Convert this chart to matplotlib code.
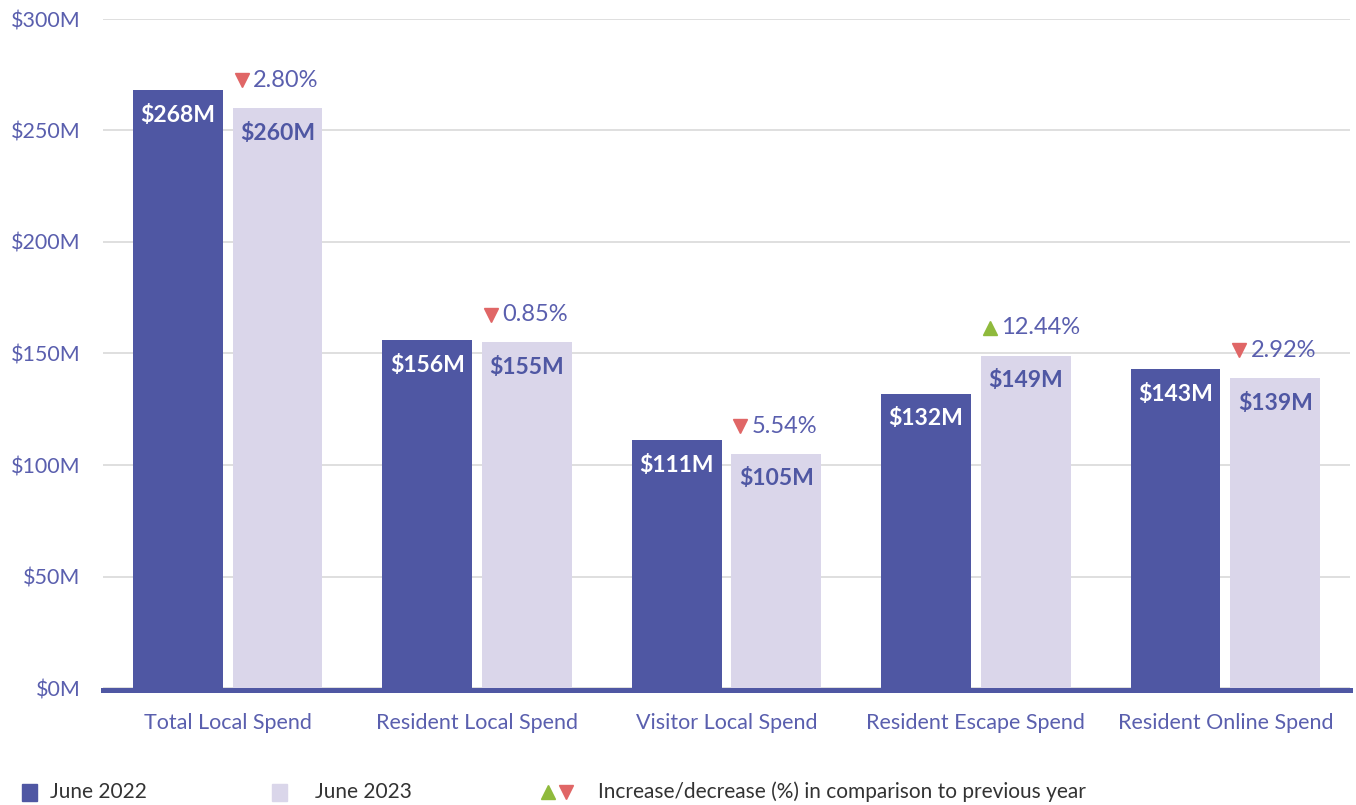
import matplotlib
matplotlib.use("Agg")
import matplotlib.pyplot as plt
from matplotlib.patches import Rectangle
from matplotlib.lines import Line2D
import matplotlib.transforms as mtransforms
import numpy as np

categories = ["Total Local Spend", "Resident Local Spend", "Visitor Local Spend",
              "Resident Escape Spend", "Resident Online Spend"]
june_2022 = [268, 156, 111, 132, 143]
june_2023 = [260, 155, 105, 149, 139]
pct_change = [-2.80, -0.85, -5.54, 12.44, -2.92]
y_ticks = [0, 50, 100, 150, 200, 250, 300]
y_tick_labels = ["$0M", "$50M", "$100M", "$150M", "$200M", "$250M", "$300M"]
legend_labels = ["June 2022", "June 2023", "Increase/decrease (%) in comparison to previous year"]

DARK = "#4f57a3"
LIGHT = "#dad6ea"
TXT = "#5a5fae"
RED = "#e06666"
GREEN = "#8fba3c"
FONT = "Lato"

plt.rcParams['font.family'] = [FONT, 'DejaVu Sans']

fig = plt.figure(figsize=(13.56, 8.05), dpi=100)
ax = fig.add_axes([103/1356, 1-688/805, 1247/1356, 669/805])

x = np.arange(len(categories))
w = 0.36
off = 0.2
ax.bar(x - off, june_2022, width=w, color=DARK, zorder=2)
ax.bar(x + off, june_2023, width=w, color=LIGHT, zorder=2)

ax.set_xlim(-0.5, 4.5)
ax.set_ylim(0, 300)
ax.set_yticks(y_ticks)
ax.set_yticklabels(y_tick_labels)
ax.set_xticks(x)
ax.set_xticklabels(categories)
ax.tick_params(axis='both', length=0, labelcolor=TXT, labelsize=15.5)
ax.tick_params(axis='y', pad=16)
ax.tick_params(axis='x', pad=18)
for s in ax.spines.values():
    s.set_visible(False)
ax.grid(axis='y', color="#dcdcdc", linewidth=1.3, zorder=0)
ax.set_axisbelow(True)
base = ax.axhline(0, color=DARK, linewidth=3.6, zorder=3, clip_on=False)
base.set_transform(ax.get_yaxis_transform() +
                   mtransforms.ScaledTranslation(0, -1.5/72, fig.dpi_scale_trans))

for xi, v in zip(x, june_2022):
    ax.annotate(f"${v}M", (xi - off, v), xytext=(0, -18), textcoords='offset points',
                ha='center', va='center', color='white', fontsize=16.5, fontweight='bold')
for xi, v in zip(x, june_2023):
    ax.annotate(f"${v}M", (xi + off, v), xytext=(0, -18), textcoords='offset points',
                ha='center', va='center', color=DARK, fontsize=16.5, fontweight='bold')

for xi, v, p in zip(x, june_2023, pct_change):
    col = GREEN if p > 0 else RED
    mk = '^' if p > 0 else 'v'
    ax.plot([xi + off - 0.144], [v], marker=mk, color=col, markersize=10.5,
            linestyle='none', transform=ax.transData +
            mtransforms.ScaledTranslation(0, 20/72, fig.dpi_scale_trans),
            clip_on=False, zorder=4)
    ax.annotate(f"{abs(p):.2f}%", (xi + off - 0.098, v), xytext=(0, 20),
                textcoords='offset points', ha='left', va='center', color=TXT,
                fontsize=17)

# legend
fy = 1 - 792/805
fig.patches.append(Rectangle((22/1356, 1-801/805), 15/1356, 17/805,
                             transform=fig.transFigure, color=DARK))
fig.text(50/1356, fy, legend_labels[0], color="#333333", fontsize=15, va='center')
fig.patches.append(Rectangle((272/1356, 1-801/805), 15/1356, 17/805,
                             transform=fig.transFigure, color=LIGHT))
fig.text(315/1356, fy, legend_labels[1], color="#333333", fontsize=15, va='center')
fig.lines.append(Line2D([548/1356], [fy], marker='^', color=GREEN, markersize=10,
                        transform=fig.transFigure))
fig.lines.append(Line2D([566/1356], [fy], marker='v', color=RED, markersize=10,
                        transform=fig.transFigure))
fig.text(598/1356, fy, legend_labels[2], color="#333333", fontsize=15, va='center')

fig.savefig("out.png", dpi=100)
